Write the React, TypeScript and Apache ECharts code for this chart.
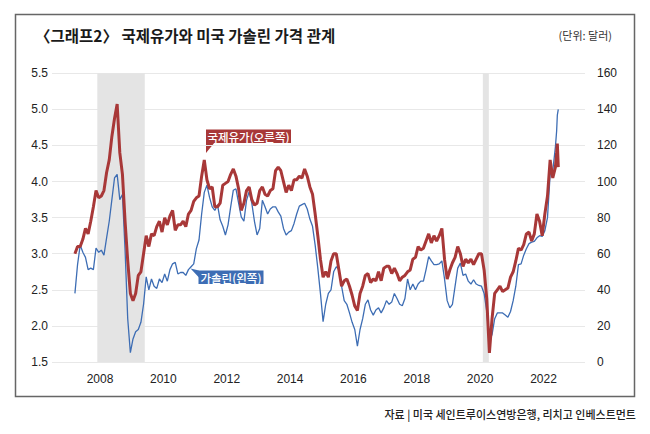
import React, { useEffect, useRef } from "react";
import * as echarts from "echarts";

// Monthly (mid-month) values, Mar 2007 .. May 2022
const gasoline = [
  2.45, 2.85, 3.12, 3.02, 2.95, 2.78, 2.80, 2.78, 3.08, 3.02, // 2007 (Mar-Dec)
  3.05, 2.98, 3.22, 3.45, 3.75, 4.05, 4.10, 3.75, 3.82, 3.05, 2.10, 1.63, // 2008
  1.82, 1.92, 1.95, 2.05, 2.30, 2.68, 2.50, 2.65, 2.55, 2.52, 2.65, 2.60, // 2009
  2.72, 2.62, 2.78, 2.86, 2.88, 2.72, 2.74, 2.74, 2.70, 2.78, 2.82, 2.86, // 2010
  3.07, 3.19, 3.55, 3.85, 3.95, 3.78, 3.65, 3.60, 3.68, 3.47, 3.38, 3.26, // 2011
  3.40, 3.65, 3.88, 3.90, 3.70, 3.51, 3.45, 3.74, 3.86, 3.70, 3.45, 3.26, // 2012
  3.35, 3.74, 3.65, 3.55, 3.62, 3.65, 3.65, 3.58, 3.52, 3.35, 3.26, 3.30, // 2013
  3.32, 3.42, 3.55, 3.66, 3.68, 3.70, 3.62, 3.48, 3.38, 3.12, 2.80, 2.45, // 2014
  2.06, 2.30, 2.45, 2.50, 2.75, 2.82, 2.78, 2.55, 2.35, 2.30, 2.18, 2.05, // 2015
  1.95, 1.72, 1.95, 2.10, 2.30, 2.36, 2.22, 2.15, 2.22, 2.25, 2.18, 2.25, // 2016
  2.35, 2.30, 2.33, 2.45, 2.38, 2.30, 2.28, 2.38, 2.65, 2.50, 2.58, 2.50, // 2017
  2.58, 2.62, 2.62, 2.78, 2.96, 2.90, 2.85, 2.85, 2.86, 2.90, 2.65, 2.35, // 2018
  2.25, 2.30, 2.55, 2.80, 2.87, 2.70, 2.72, 2.62, 2.58, 2.64, 2.58, 2.56, // 2019
  2.55, 2.45, 2.20, 1.78, 1.88, 2.10, 2.18, 2.18, 2.18, 2.15, 2.12, 2.20, // 2020
  2.35, 2.55, 2.85, 2.86, 2.98, 3.07, 3.14, 3.16, 3.17, 3.22, 3.25, 3.24, // 2021
  3.32, 3.50, 4.10, 4.15, 4.48, // 2022 (Jan-May)
];

const wti = [
  60, 64, 64, 68, 74, 71, 78, 86, 95, 91, // 2007 (Mar-Dec)
  92, 95, 105, 112, 125, 135, 143, 116, 104, 78, 56, 38, // 2008
  34, 38, 48, 50, 60, 70, 64, 71, 70, 75, 78, 72, // 2009
  80, 76, 81, 84, 73, 76, 76, 78, 75, 82, 84, 89, // 2010
  91, 92, 103, 112, 101, 96, 97, 86, 86, 88, 98, 99, // 2011
  100, 104, 107, 103, 96, 84, 88, 95, 97, 90, 87, 88, // 2012
  95, 97, 93, 92, 95, 96, 106, 108, 106, 100, 94, 98, // 2013
  95, 101, 101, 103, 102, 107, 103, 97, 93, 82, 70, 57, // 2014
  47, 50, 47, 56, 60, 60, 51, 42, 45, 46, 42, 37, // 2015
  31, 28.5, 38, 42, 48, 49, 44, 46, 45, 50, 45, 52, // 2016
  53, 53, 49, 52, 49, 45, 47, 48, 50, 51, 57, 58, // 2017
  64, 62, 63, 67, 71, 66, 70, 67, 70, 74, 57, 46, // 2018
  51, 55, 58, 64, 60, 53, 57, 55, 57, 54, 57, 60, // 2019
  60, 51, 35, 5, 24, 38, 40, 42, 39, 40, 41, 47, // 2020
  50, 56, 63, 62, 65, 71, 72, 67, 71, 82, 78, 70, // 2021
  82, 92, 112, 102, 108, // 2022 (Jan-May)
];

// Last weekly observations of June 2022
const juneDates = ["2022-06-01", "2022-06-09", "2022-06-20"];
const gasolineJune = [4.7, 4.92, 5.0];
const wtiJune = [116, 121, 108];

const xTickYears = [2008, 2010, 2012, 2014, 2016, 2018, 2020, 2022];
const recessions = [
  ["2007-12-01", "2009-06-01"],
  ["2020-02-01", "2020-04-10"],
];

function toYear(s: string): number {
  const [y, m, d] = s.split("-").map(Number);
  const doy = (Date.UTC(y, m - 1, d) - Date.UTC(y, 0, 1)) / 86400000;
  return y + doy / 365;
}

function monthlyPositions(n: number): number[] {
  const out: number[] = [];
  for (let i = 0; i < n; i++) {
    const k = 2 + i; // start at March 2007
    const y = 2007 + Math.floor(k / 12);
    const m = k % 12;
    out.push(y + (m + 0.5) / 12);
  }
  return out;
}

const FONT = "'Liberation Sans', Arial, sans-serif";
const KFONT = "'Noto Sans CJK KR', sans-serif";

export default function App() {
  const ref = useRef<HTMLDivElement>(null);
  useEffect(() => {
    document.body.style.margin = "0";
    if (!ref.current) return;
    const chart = echarts.init(ref.current, undefined, { renderer: "svg" });
    const xs = monthlyPositions(gasoline.length);
    const juneX = juneDates.map(toYear);
    const gasData = xs.map((x, i) => [x, gasoline[i]]).concat(juneX.map((x, i) => [x, gasolineJune[i]]));
    const wtiData = xs.map((x, i) => [x, wti[i]]).concat(juneX.map((x, i) => [x, wtiJune[i]]));

    const option: any = {
      animation: false,
      backgroundColor: "#ffffff",
      grid: { left: 52, right: 65, top: 73.3, bottom: 72, containLabel: false },
      xAxis: {
        type: "value",
        min: 2006.485,
        max: 2023.309,
        axisLine: { show: false },
        axisTick: { show: false },
        splitLine: { show: false },
        axisLabel: {
          customValues: xTickYears,
          formatter: (v: number) => String(Math.round(v)),
          color: "#222",
          fontFamily: FONT,
          fontSize: 12,
          margin: 11,
        },
      },
      yAxis: [
        {
          type: "value",
          min: 1.5,
          max: 5.5,
          interval: 0.5,
          position: "left",
          axisLine: { show: false },
          axisTick: { show: false },
          splitLine: { show: true, lineStyle: { color: "#e8e8e8", width: 1 } },
          axisLabel: {
            formatter: (v: number) => v.toFixed(1),
            color: "#222",
            fontFamily: FONT,
            fontSize: 12,
            margin: 4,
          },
        },
        {
          type: "value",
          min: 0,
          max: 160,
          interval: 20,
          position: "right",
          axisLine: { show: false },
          axisTick: { show: false },
          splitLine: { show: false },
          axisLabel: {
            color: "#222",
            fontFamily: FONT,
            fontSize: 12,
            margin: 12,
            align: "left",
          },
        },
      ],
      series: [
        {
          name: "가솔린",
          type: "line",
          yAxisIndex: 0,
          data: gasData,
          showSymbol: false,
          symbol: "none",
          lineStyle: { color: "#3d6db4", width: 1.3 },
          z: 3,
          markArea: {
            silent: true,
            itemStyle: { color: "#e4e4e4" },
            data: recessions.map(([a, b]) => [{ xAxis: toYear(a) }, { xAxis: toYear(b) }]),
          },
        },
        {
          name: "국제유가",
          type: "line",
          yAxisIndex: 1,
          data: wtiData,
          showSymbol: false,
          symbol: "none",
          lineStyle: { color: "#a83838", width: 3 },
          z: 4,
        },
      ],
      graphic: [
        {
          type: "rect",
          shape: { x: 15.5, y: 14.5, width: 619, height: 382 },
          style: { fill: "none", stroke: "#666", lineWidth: 1.5 },
          silent: true,
        },
        {
          type: "text",
          x: 35,
          y: 35,
          style: {
            text: "〈그래프2〉 국제유가와 미국 가솔린 가격 관계",
            fill: "#1a1a1a",
            font: `bold 15.5px ${KFONT}`,
            textVerticalAlign: "middle",
          },
        },
        {
          type: "text",
          x: 612,
          y: 35,
          style: {
            text: "(단위: 달러)",
            fill: "#333",
            font: `11px ${KFONT}`,
            textAlign: "right",
            textVerticalAlign: "middle",
          },
        },
        {
          type: "text",
          x: 636,
          y: 414,
          style: {
            text: "자료 | 미국 세인트루이스연방은행, 리치고 인베스트먼트",
            fill: "#222",
            font: `500 11px ${KFONT}`,
            textAlign: "right",
            textVerticalAlign: "middle",
          },
        },
        // oil label flag
        {
          type: "polygon",
          shape: { points: [[206, 142], [215, 142], [206, 153]] },
          style: { fill: "#a83838" },
        },
        {
          type: "rect",
          shape: { x: 206, y: 129.5, width: 85, height: 13.5 },
          style: { fill: "#a83838" },
        },
        {
          type: "text",
          x: 248.5,
          y: 136.5,
          style: {
            text: "국제유가(오른쪽)",
            fill: "#fff",
            font: `500 11.5px ${KFONT}`,
            textAlign: "center",
            textVerticalAlign: "middle",
          },
        },
        // gasoline label flag
        {
          type: "polygon",
          shape: { points: [[190.5, 268.5], [199, 270.5], [199, 277.5]] },
          style: { fill: "#3d6db4" },
        },
        {
          type: "rect",
          shape: { x: 198.5, y: 270.5, width: 65, height: 13.5 },
          style: { fill: "#3d6db4" },
        },
        {
          type: "text",
          x: 231,
          y: 277.5,
          style: {
            text: "가솔린(왼쪽)",
            fill: "#fff",
            font: `500 11.5px ${KFONT}`,
            textAlign: "center",
            textVerticalAlign: "middle",
          },
        },
      ],
    };
    chart.setOption(option);
    return () => chart.dispose();
  }, []);
  return <div ref={ref} style={{ width: 650, height: 434 }} />;
}
